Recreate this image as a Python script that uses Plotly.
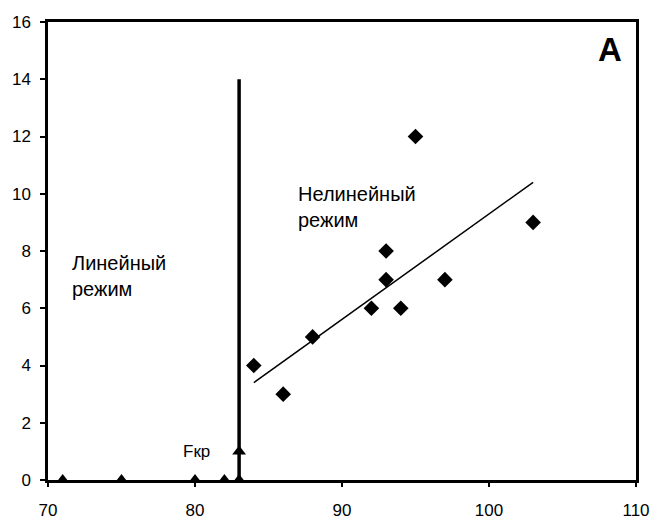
import plotly.graph_objects as go

# Linear regime points (triangles)
lin_x = [71, 75, 80, 82, 83, 83]
lin_y = [0, 0, 0, 0, 0, 1]

# Nonlinear regime points (diamonds)
nl_x = [84, 86, 88, 92, 93, 93, 94, 95, 97, 103]
nl_y = [4, 3, 5, 6, 7, 8, 6, 12, 7, 9]

# Trend line endpoints
trend_x = [84, 103]
trend_y = [3.4, 10.4]

# Critical threshold vertical line
crit_x = [83, 83]
crit_y = [0, 14]

x_ticks = [70, 80, 90, 100, 110]
y_ticks = [0, 2, 4, 6, 8, 10, 12, 14, 16]

FONT = "Liberation Sans, Arial, sans-serif"

fig = go.Figure()
fig.add_trace(go.Scatter(x=crit_x, y=crit_y, mode="lines",
                         line=dict(color="black", width=3.5), showlegend=False))
fig.add_trace(go.Scatter(x=trend_x, y=trend_y, mode="lines",
                         line=dict(color="black", width=1.5), showlegend=False))
fig.add_trace(go.Scatter(x=lin_x, y=lin_y, mode="markers",
                         marker=dict(symbol="triangle-up", size=12, color="black"),
                         showlegend=False, cliponaxis=False))
fig.add_trace(go.Scatter(x=nl_x, y=nl_y, mode="markers",
                         marker=dict(symbol="diamond", size=12, color="black"),
                         showlegend=False, cliponaxis=False))

fig.add_annotation(x=71.5, y=7.13, xref="x", yref="y", text="Линейный<br>режим",
                   showarrow=False, xanchor="left", yanchor="middle", align="left",
                   font=dict(family=FONT, size=20, color="black"))
fig.add_annotation(x=86.85, y=9.55, xref="x", yref="y", text="Нелинейный<br>режим",
                   showarrow=False, xanchor="left", yanchor="middle", align="left",
                   font=dict(family=FONT, size=20, color="black"))
fig.add_annotation(x=80.1, y=1.0, xref="x", yref="y", text="Fкр",
                   showarrow=False, xanchor="center", yanchor="middle",
                   font=dict(family=FONT, size=17, color="black"))
fig.add_annotation(x=0.955, y=0.94, xref="paper", yref="paper", text="<b>A</b>",
                   showarrow=False, xanchor="center", yanchor="middle",
                   font=dict(family=FONT, size=33, color="black"))

axis_common = dict(showgrid=False, zeroline=False, showline=True, linecolor="black",
                   linewidth=2.5, mirror=True, ticks="outside", tickcolor="black",
                   tickwidth=2, automargin=False, layer="below traces",
                   tickfont=dict(family=FONT, size=17, color="black"))

fig.update_xaxes(range=[70, 110], tickvals=x_ticks, ticklen=4,
                 ticklabelstandoff=9, **axis_common)
fig.update_yaxes(range=[0, 16], tickvals=y_ticks, ticklen=5,
                 ticklabelstandoff=6, **axis_common)

fig.update_layout(width=657, height=522, margin=dict(l=48, r=21, t=22, b=42),
                  paper_bgcolor="white", plot_bgcolor="white",
                  font=dict(family=FONT))

fig.write_html("out.html", config={"displayModeBar": False},
               post_script="document.body.style.margin='0';document.body.style.overflow='hidden';")
